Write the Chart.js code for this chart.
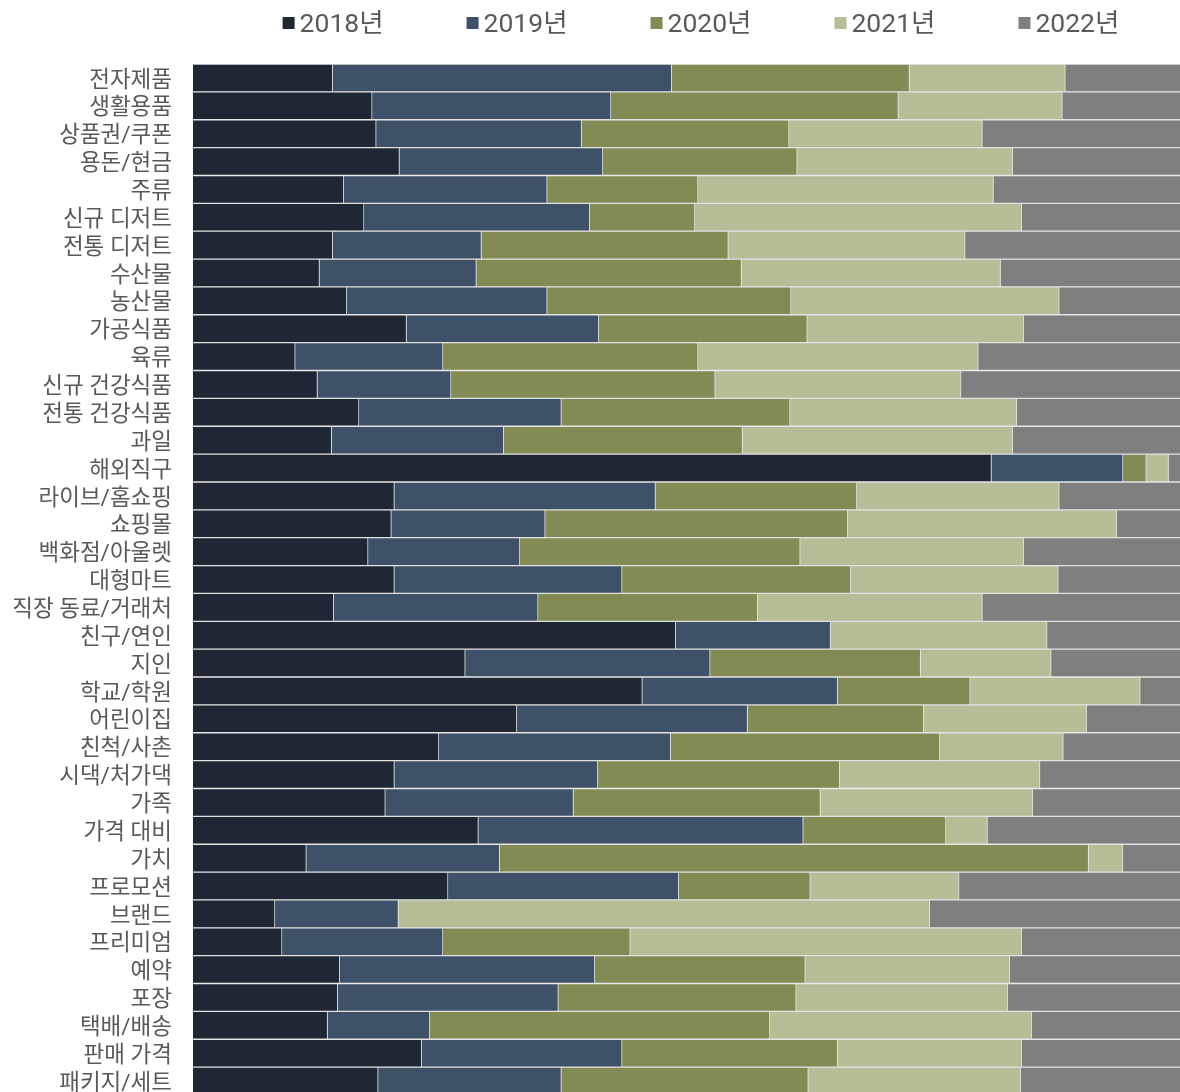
<!DOCTYPE html>
<html lang="ko">
<head>
<meta charset="utf-8">
<title>연도별 구매 비중</title>
<script src="https://cdn.jsdelivr.net/npm/chart.js@4/dist/chart.umd.min.js"></script>
<style>
    html, body { margin: 0; padding: 0; background: #fff; overflow: hidden; }
    .wrap { width: 1180px; height: 1092px; overflow: hidden; }
    canvas { display: block; }
</style>
</head>
<body>
<div class="wrap"><canvas id="shareChart" width="1205" height="1095"></canvas></div>
<script>
const categories = [
    '전자제품', '생활용품', '상품권/쿠폰', '용돈/현금', '주류', '신규 디저트', '전통 디저트',
    '수산물', '농산물', '가공식품', '육류', '신규 건강식품', '전통 건강식품', '과일',
    '해외직구', '라이브/홈쇼핑', '쇼핑몰', '백화점/아울렛', '대형마트', '직장 동료/거래처',
    '친구/연인', '지인', '학교/학원', '어린이집', '친척/사촌', '시댁/처가댁', '가족',
    '가격 대비', '가치', '프로모션', '브랜드', '프리미엄', '예약', '포장', '택배/배송',
    '판매 가격', '패키지/세트'
]

const years = ['2018년', '2019년', '2020년', '2021년', '2022년']
const colors = ['#1f2734', '#3f5069', '#838b55', '#b7bd97', '#7f7f7f']

// share (%) per category, one array per year
const y2018 = [13.8, 17.7, 18.1, 20.4, 14.9, 16.9, 13.8, 12.5, 15.2, 21.1, 10.1, 12.3, 16.4, 13.7,
    78.9, 19.9, 19.6, 17.3, 19.9, 13.9, 47.7, 26.9, 44.4, 32.0, 24.3, 19.9, 19.0,
    28.2, 11.2, 25.2, 8.1, 8.8, 14.5, 14.3, 13.3, 22.6, 18.3]
const y2019 = [33.5, 23.6, 20.3, 20.1, 20.1, 22.3, 14.7, 15.5, 19.8, 19.0, 14.6, 13.2, 20.0, 17.0,
    13.0, 25.8, 15.2, 15.0, 22.5, 20.2, 15.3, 24.2, 19.3, 22.8, 22.9, 20.1, 18.6,
    32.1, 19.1, 22.8, 12.2, 15.9, 25.2, 21.8, 10.1, 19.8, 18.1]
const y2020 = [23.5, 28.4, 20.5, 19.2, 14.9, 10.4, 24.4, 26.2, 24.1, 20.6, 25.2, 26.1, 22.6, 23.6,
    2.3, 19.9, 29.9, 27.7, 22.6, 21.7, 0, 20.8, 13.1, 17.4, 26.6, 23.9, 24.4,
    14.1, 58.2, 13.0, 0, 18.5, 20.8, 23.5, 33.6, 21.3, 24.4]
const y2021 = [15.4, 16.2, 19.1, 21.3, 29.2, 32.3, 23.4, 25.6, 26.5, 21.4, 27.7, 24.3, 22.4, 26.7,
    2.2, 20.0, 26.6, 22.1, 20.5, 22.2, 21.4, 12.9, 16.8, 16.1, 12.2, 19.8, 21.0,
    4.1, 3.4, 14.7, 52.5, 38.7, 20.2, 20.9, 25.9, 18.2, 21.0]
const y2022 = [13.8, 14.1, 22.0, 19.0, 20.9, 18.1, 23.7, 20.2, 14.4, 17.9, 22.4, 24.1, 18.6, 19.0,
    3.6, 14.4, 8.7, 17.9, 14.5, 22.0, 15.6, 15.2, 6.4, 11.7, 14.0, 16.3, 17.0,
    21.5, 8.1, 24.3, 27.2, 18.1, 19.3, 19.5, 17.1, 18.1, 18.2]

const series = [y2018, y2019, y2020, y2021, y2022]

// legend row drawn above the plot, centred on the chart area
const yearLegend = {
    id: 'yearLegend',
    afterDraw(chart) {
        const ctx = chart.ctx
        const area = chart.chartArea
        const gap = 83
        ctx.save()
        ctx.font = '26.5px Roboto, "Noto Sans CJK KR", sans-serif'
        ctx.textBaseline = 'middle'
        const items = chart.data.datasets.map(ds => ({
            text: ds.label,
            color: ds.backgroundColor,
            w: 17 + ctx.measureText(ds.label).width
        }))
        const total = items.reduce((s, it) => s + it.w, 0) + gap * (items.length - 1)
        let x = (area.left + area.right) / 2 - total / 2 + 2
        items.forEach(it => {
            ctx.fillStyle = it.color
            ctx.fillRect(x, 17, 12, 12)
            ctx.fillStyle = '#595959'
            ctx.fillText(it.text, x + 17, 25)
            x += it.w + gap
        })
        ctx.restore()
    }
}

document.addEventListener('DOMContentLoaded', function () {
    Chart.defaults.font.family = 'Roboto, "Noto Sans CJK KR", sans-serif'

    new Chart(document.getElementById('shareChart'), {
        type: 'bar',
        data: {
            labels: categories,
            datasets: years.map((year, i) => ({
                label: year,
                data: series[i],
                backgroundColor: colors[i],
                borderColor: 'rgba(210, 210, 210, 0.5)',
                borderWidth: 1,
                barPercentage: 1,
                categoryPercentage: 1
            }))
        },
        options: {
            indexAxis: 'y',
            responsive: false,
            animation: false,
            layout: { padding: { top: 64, left: 0, right: 0, bottom: 0 } },
            scales: {
                x: { stacked: true, min: 0, max: 100, display: false },
                y: {
                    stacked: true,
                    grid: { display: false, drawTicks: false },
                    border: { display: true, color: '#d9d9d9', width: 1 },
                    ticks: {
                        autoSkip: false,
                        color: '#595959',
                        padding: 21,
                        labelOffset: 3,
                        font: { size: 22.5 }
                    },
                    afterFit(scale) {
                        scale.width = 193
                        scale.paddingTop = 0
                        scale.paddingBottom = 0
                    }
                }
            },
            plugins: {
                legend: { display: false },
                tooltip: { enabled: false }
            }
        },
        plugins: [yearLegend]
    })
})
</script>
</body>
</html>
